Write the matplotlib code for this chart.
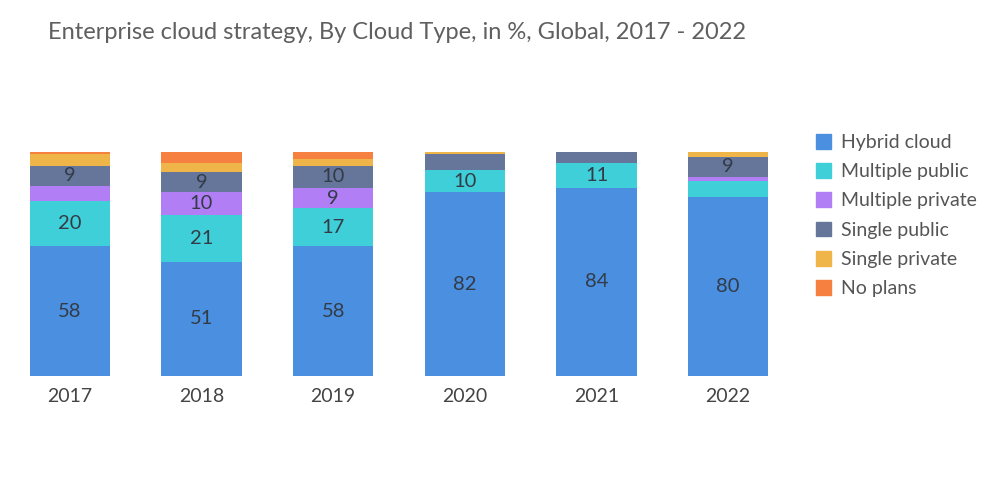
import matplotlib
matplotlib.use('Agg')
import matplotlib.pyplot as plt
import matplotlib.patches as mpatches
import numpy as np

plt.rcParams['font.family'] = ['Lato', 'DejaVu Sans']

years = ['2017', '2018', '2019', '2020', '2021', '2022']
series_names = ['Hybrid cloud', 'Multiple public', 'Multiple private',
                'Single public', 'Single private', 'No plans']
hybrid_cloud     = [58, 51, 58, 82, 84, 80]
multiple_public  = [20, 21, 17, 10, 11, 7]
multiple_private = [7, 10, 9, 0, 0, 2]
single_public    = [9, 9, 10, 7, 5, 9]
single_private   = [5, 4, 3, 1, 0, 2]
no_plans         = [1, 5, 3, 0, 0, 0]

colors = ['#4a8fe0', '#3fcfd8', '#b17ef6', '#65769a', '#f0b549', '#f5803f']

fig = plt.figure(figsize=(10, 5.04), dpi=100)
ax = fig.add_axes([0.004, 0.254, 0.79, 0.444])

x = np.arange(len(years))
bottom = np.zeros(len(years))
handles = []
for name, vals, col in zip(series_names,
                           [hybrid_cloud, multiple_public, multiple_private,
                            single_public, single_private, no_plans],
                           colors):
    vals = np.array(vals, dtype=float)
    ax.bar(x, vals, bottom=bottom, width=0.61, color=col, edgecolor='none')
    for xi, v, b in zip(x, vals, bottom):
        if v >= 9:
            ax.text(xi, b + v / 2, f'{int(v)}', ha='center', va='center',
                    fontsize=14.5, color='#333b47')
    bottom += vals
    handles.append(mpatches.Patch(color=col, label=name))

ax.set_xlim(-0.5, 5.5)
ax.set_ylim(0, 100)
ax.set_xticks(x)
ax.set_xticklabels(years, fontsize=14, color='#444444')
ax.tick_params(axis='x', length=0, pad=9)
ax.set_yticks([])
for s in ax.spines.values():
    s.set_visible(False)

fig.text(0.048, 0.935, 'Enterprise cloud strategy, By Cloud Type, in %, Global, 2017 - 2022',
         fontsize=17, color='#5f5f5f', va='center', ha='left')

fig.legend(handles=handles, loc='upper left', bbox_to_anchor=(0.808, 0.75),
           frameon=False, fontsize=14, labelcolor='#555555',
           handlelength=0.8, handleheight=0.8, handletextpad=0.5,
           labelspacing=0.62, borderaxespad=0)

fig.savefig('out.png', dpi=100, facecolor='white')
